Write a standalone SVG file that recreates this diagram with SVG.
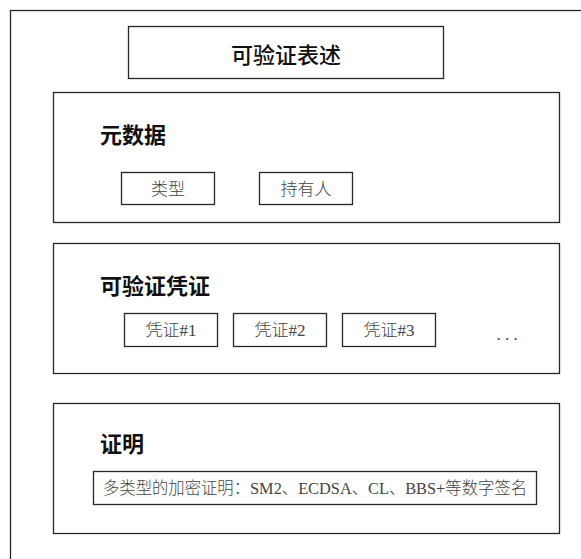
<svg xmlns="http://www.w3.org/2000/svg" width="581" height="559" viewBox="0 0 581 559">
<style>
.box{fill:#fff;stroke:#262626;stroke-width:1.3}
.head{font-family:"Noto Sans CJK SC",sans-serif;font-size:22px;font-weight:bold;fill:#111}
.title{font-family:"Noto Sans CJK SC",sans-serif;font-size:22px;font-weight:500;fill:#111}
.item{font-family:"Liberation Serif","Noto Sans CJK SC",serif;font-size:17px;font-weight:300;fill:#444;text-anchor:middle;dominant-baseline:central}
</style>
<rect width="581" height="559" fill="#fff"/>
<rect x="10.5" y="10.5" width="620" height="620" class="box"/>
<g id="title">
<rect x="128.5" y="26.5" width="315" height="52" class="box"/>
<text x="286" y="53" class="title" text-anchor="middle" dominant-baseline="central">可验证表述</text>
</g>
<g id="metadata">
<rect x="53.5" y="92.5" width="506" height="130" class="box"/>
<text x="100" y="143" class="head">元数据</text>
<g id="type"><rect x="121.5" y="172.5" width="93" height="32" class="box"/><text x="168" y="189" class="item">类型</text></g>
<g id="holder"><rect x="259.5" y="172.5" width="93" height="32" class="box"/><text x="306" y="189" class="item">持有人</text></g>
</g>
<g id="credentials">
<rect x="53.5" y="243.5" width="506" height="130" class="box"/>
<text x="100" y="294" class="head">可验证凭证</text>
<g id="cred1"><rect x="124.5" y="313.5" width="93" height="33" class="box"/><text x="171" y="330.5" class="item">凭证#1</text></g>
<g id="cred2"><rect x="233.5" y="313.5" width="93" height="33" class="box"/><text x="280" y="330.5" class="item">凭证#2</text></g>
<g id="cred3"><rect x="342.5" y="313.5" width="93" height="33" class="box"/><text x="389" y="330.5" class="item">凭证#3</text></g>
<text x="507" y="334" class="item">. . .</text>
</g>
<g id="proof">
<rect x="53.5" y="403.5" width="506" height="130" class="box"/>
<text x="100" y="452" class="head">证明</text>
<g id="crypto"><rect x="93.5" y="471.5" width="443" height="33" class="box"/><text x="315" y="488.5" class="item" textLength="424" lengthAdjust="spacingAndGlyphs">多类型的加密证明：SM2、ECDSA、CL、BBS+等数字签名</text></g>
</g>
<g id="connectors"/>
</svg>
